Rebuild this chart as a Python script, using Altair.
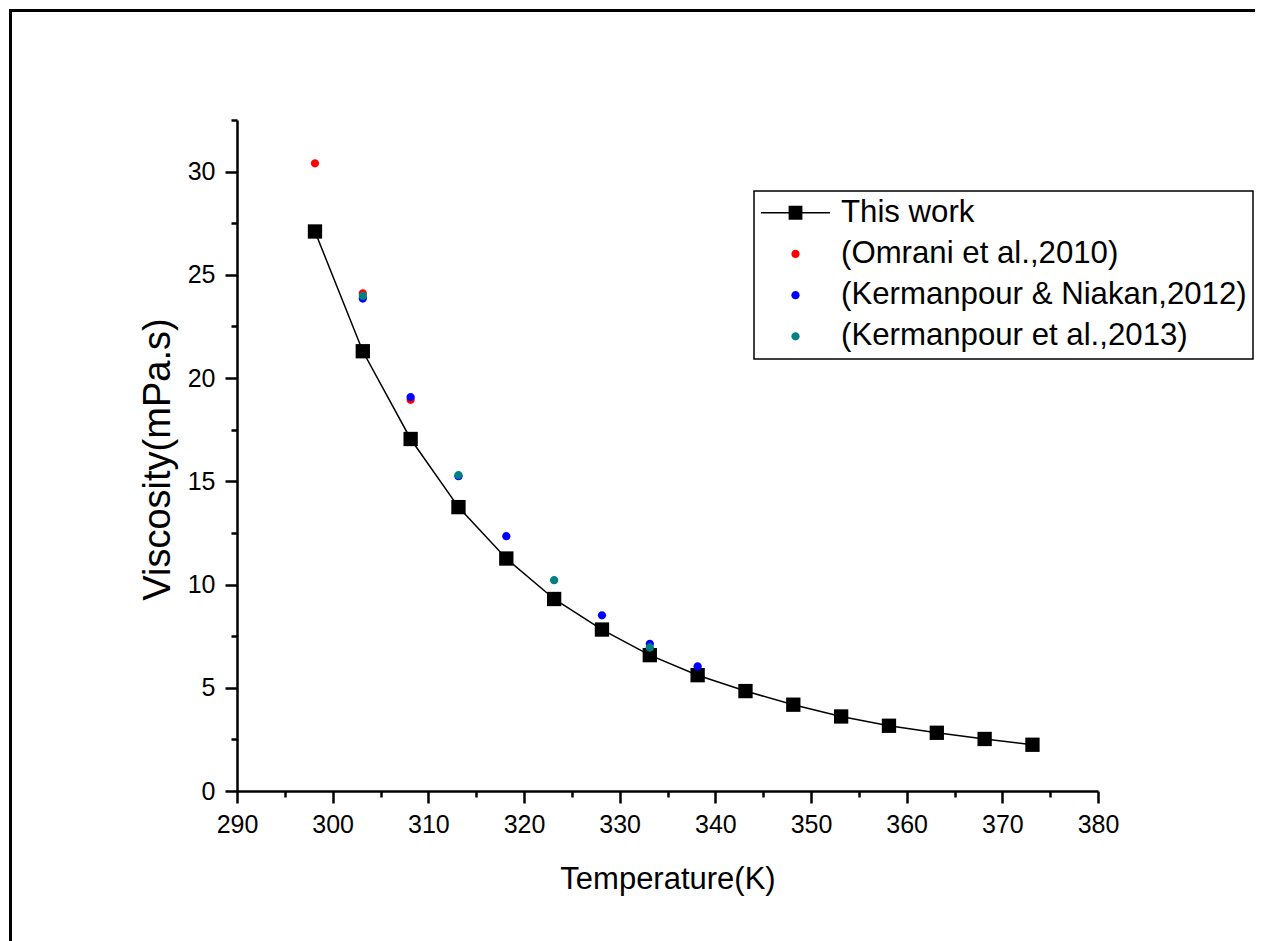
import altair as alt
import pandas as pd

# ---------------- data ----------------
temps_this = [298.15, 303.15, 308.15, 313.15, 318.15, 323.15, 328.15, 333.15,
              338.15, 343.15, 348.15, 353.15, 358.15, 363.15, 368.15, 373.15]
visc_this = [27.10, 21.30, 17.05, 13.75, 11.26, 9.30, 7.82, 6.58,
             5.61, 4.84, 4.18, 3.61, 3.16, 2.82, 2.52, 2.24]

temps_omrani = [298.15, 303.15, 308.15]
visc_omrani = [30.40, 24.10, 18.95]

temps_kn = [303.15, 308.15, 313.15, 318.15, 328.15, 333.15, 338.15]
visc_kn = [23.85, 19.08, 15.25, 12.34, 8.51, 7.13, 6.03]

temps_k13 = [303.15, 313.15, 323.15, 333.15]
visc_k13 = [23.98, 15.30, 10.21, 6.95]

series_names = ["This work", "(Omrani et al.,2010)",
                "(Kermanpour & Niakan,2012)", "(Kermanpour et al.,2013)"]
series_colors = ["#000000", "#FF0000", "#0000FF", "#008080"]

x_ticks = list(range(290, 385, 5))
y_ticks = [i * 2.5 for i in range(14)]

# ---------------- tables ----------------
df_this = pd.DataFrame({"T": temps_this, "V": visc_this})
df_dots = pd.concat([
    pd.DataFrame({"T": temps_omrani, "V": visc_omrani, "series": series_names[1]}),
    pd.DataFrame({"T": temps_kn, "V": visc_kn, "series": series_names[2]}),
    pd.DataFrame({"T": temps_k13, "V": visc_k13, "series": series_names[3]}),
], ignore_index=True)

FONT = "Liberation Sans"

# symbol paths (unit box scaled by sqrt(size)/2)
SYM_SIZE = 4761
legend_line_square = "M-1,-0.022H1V0.022H-1Z M-0.2,-0.2H0.2V0.2H-0.2Z"
small_dot = "M0.12,0A0.12,0.12,0,1,1,-0.12,0A0.12,0.12,0,1,1,0.12,0Z"
shape_range = [legend_line_square, small_dot, small_dot, small_dot]

x_scale = alt.Scale(domain=[290, 380], nice=False, zero=False)
y_scale = alt.Scale(domain=[0, 32.5], nice=False, zero=False)

x_axis = alt.Axis(
    title="Temperature(K)", values=x_ticks,
    labelExpr="datum.value % 10 === 0 ? '' + datum.value : ''",
    tickSize={"condition": {"test": "datum.value % 10 === 0", "value": 12}, "value": 6},
    grid=False, labelOverlap=False, labelFlush=False,
    labelPadding=9, titlePadding=27, titleFontSize=31,
)
y_axis = alt.Axis(
    title="Viscosity(mPa.s)", values=y_ticks,
    labelExpr="datum.value % 5 === 0 ? '' + datum.value : ''",
    tickSize={"condition": {"test": "datum.value % 5 === 0", "value": 12}, "value": 6},
    grid=False, labelOverlap=False, labelFlush=False,
    labelPadding=10, titlePadding=10, titleFontSize=38, titleY=339,
)

frame_top = alt.Chart(pd.DataFrame({"k": [0]})).mark_rule(
    color="black", strokeWidth=3
).encode(x=alt.value(-228), x2=alt.value(1018), y=alt.value(-109.5))

frame_left = alt.Chart(pd.DataFrame({"k": [0]})).mark_rule(
    color="black", strokeWidth=3
).encode(x=alt.value(-226.5), y=alt.value(-111), y2=alt.value(821))

line = alt.Chart(df_this).mark_line(color="black", strokeWidth=1.5).encode(
    x=alt.X("T:Q", scale=x_scale, axis=x_axis),
    y=alt.Y("V:Q", scale=y_scale, axis=y_axis),
)

squares = alt.Chart(df_this).mark_point(
    shape="square", filled=True, size=205, color="black", opacity=1
).encode(x="T:Q", y="V:Q")

legend = alt.Legend(
    title=None, orient="none", legendX=517, legendY=71, direction="vertical",
    labelFont=FONT, labelFontSize=31.2, labelColor="black", labelLimit=0,
    labelOffset=10, rowPadding=8.2, padding=6, symbolSize=SYM_SIZE,
    clipHeight=31.5,
    strokeColor="black", fillColor="white",
)

dots = alt.Chart(df_dots).mark_point(filled=True, opacity=1, size=SYM_SIZE).encode(
    x="T:Q", y="V:Q",
    fill=alt.Fill("series:N", scale=alt.Scale(domain=series_names, range=series_colors), legend=legend),
    shape=alt.Shape("series:N", scale=alt.Scale(domain=series_names, range=shape_range), legend=legend),
)

chart = alt.layer(frame_top, frame_left, line, squares, dots).properties(
    width=861, height=671,
    padding={"left": 237, "top": 120, "right": 164, "bottom": 150},
    autosize=alt.AutoSizeParams(type="none"),
    background="white",
).configure_axis(
    labelFont=FONT, titleFont=FONT, labelFontSize=25,
    titleFontWeight="normal", labelColor="black", titleColor="black",
    domainColor="black", tickColor="black", domainWidth=2.5, tickWidth=2.5,
).configure_legend(
    strokeWidth=1.5,
).configure_view(stroke="transparent")

chart.save("out.html", embed_options={"renderer": "svg", "actions": False})
